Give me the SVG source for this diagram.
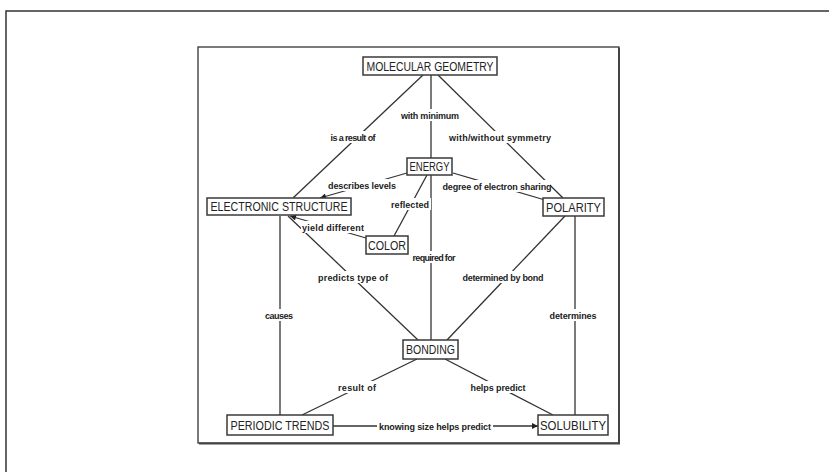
<svg xmlns="http://www.w3.org/2000/svg" width="829" height="472" viewBox="0 0 829 472">
<style>
.frame{fill:none;stroke:#333;stroke-width:1.5}
.box{fill:#fff;stroke:#3a3a3a;stroke-width:1.5}
.nt{font-family:"Liberation Sans",Arial,sans-serif;font-size:12.5px;fill:#222;text-anchor:middle}
.ln{stroke:#333;stroke-width:1.3;fill:none}
.lb{fill:#fff}
.lt{font-family:"Liberation Sans",Arial,sans-serif;font-size:9px;font-weight:bold;fill:#222;text-anchor:middle}
</style>
<defs>
<marker id="arr" viewBox="0 0 10 10" refX="10" refY="5" markerWidth="8" markerHeight="6" markerUnits="userSpaceOnUse" orient="auto">
<path d="M0,0 L10,5 L0,10 z" fill="#222"/>
</marker>
</defs>
<rect width="829" height="472" fill="#fff"/>
<path class="frame" d="M6,472 V11 H829"/>
<rect x="198" y="47" width="421" height="396" fill="#fff" stroke="#333" stroke-width="1.3"/>
<path d="M619,48 V443.5 H199" fill="none" stroke="#444" stroke-width="2"/>

<g id="connectors">
<line class="ln" x1="423" y1="75" x2="293" y2="198"/>
<line class="ln" x1="431" y1="75" x2="431" y2="158"/>
<line class="ln" x1="438" y1="75" x2="563" y2="198"/>
<line class="ln" x1="431" y1="175" x2="431" y2="340"/>
<line class="ln" x1="407" y1="173" x2="320" y2="198" marker-end="url(#arr)"/>
<line class="ln" x1="453" y1="173" x2="545" y2="200"/>
<line class="ln" x1="427" y1="175" x2="394" y2="236"/>
<line class="ln" x1="366" y1="238" x2="290" y2="216" marker-end="url(#arr)"/>
<line class="ln" x1="288" y1="216" x2="418" y2="340"/>
<line class="ln" x1="565" y1="216" x2="447" y2="340"/>
<line class="ln" x1="280" y1="216" x2="280" y2="415"/>
<line class="ln" x1="575" y1="216" x2="575" y2="415"/>
<line class="ln" x1="417" y1="359" x2="302" y2="415"/>
<line class="ln" x1="445" y1="359" x2="553" y2="415"/>
<line class="ln" x1="333" y1="426" x2="538" y2="426" marker-end="url(#arr)"/>

<g id="labels">
<rect class="lb" x="328" y="131" width="50" height="12"/><text class="lt" x="353" y="140.5" textLength="45">is a result of</text>
<rect class="lb" x="399" y="109" width="62" height="12"/><text class="lt" x="430" y="118.5" textLength="58">with minimum</text>
<rect class="lb" x="447" y="131" width="106" height="12"/><text class="lt" x="500" y="140.5" textLength="102">with/without symmetry</text>
<rect class="lb" x="410" y="251" width="47" height="12"/><text class="lt" x="434" y="260.5" textLength="43">required for</text>
<rect class="lb" x="326" y="179" width="72" height="12"/><text class="lt" x="362" y="188.5" textLength="68">describes levels</text>
<rect class="lb" x="442" y="180" width="108" height="12"/><text class="lt" x="497" y="189.5" textLength="109">degree of electron sharing</text>
<rect class="lb" x="390" y="198" width="41" height="12"/><text class="lt" x="410" y="207.5" textLength="38">reflected</text>
<rect class="lb" x="301" y="221" width="64" height="12"/><text class="lt" x="333" y="230.5" textLength="62">yield different</text>
<rect class="lb" x="317" y="271" width="73" height="12"/><text class="lt" x="353" y="280.5" textLength="70">predicts type of</text>
<rect class="lb" x="462" y="271" width="84" height="12"/><text class="lt" x="503" y="280.5" textLength="81">determined by bond</text>
<rect class="lb" x="263" y="309" width="32" height="12"/><text class="lt" x="279" y="318.5" textLength="28">causes</text>
<rect class="lb" x="549" y="309" width="50" height="12"/><text class="lt" x="573" y="318.5" textLength="47">determines</text>
<rect class="lb" x="337" y="381" width="41" height="12"/><text class="lt" x="357" y="390.5" textLength="38">result of</text>
<rect class="lb" x="469" y="381" width="58" height="12"/><text class="lt" x="498" y="390.5" textLength="55">helps predict</text>
<rect class="lb" x="377" y="420" width="116" height="12"/><text class="lt" x="435" y="429.5" textLength="112">knowing size helps predict</text>
</g>
</g>

<g id="n-molecular-geometry"><rect class="box" x="363" y="57" width="134" height="18"/><text class="nt" x="430" y="70.5" textLength="127" lengthAdjust="spacingAndGlyphs">MOLECULAR GEOMETRY</text></g>
<g id="n-energy"><rect class="box" x="407" y="158" width="45" height="17"/><text class="nt" x="429.5" y="171" textLength="40" lengthAdjust="spacingAndGlyphs">ENERGY</text></g>
<g id="n-electronic-structure"><rect class="box" x="207" y="198" width="144" height="17"/><text class="nt" x="279" y="211" textLength="137" lengthAdjust="spacingAndGlyphs">ELECTRONIC STRUCTURE</text></g>
<g id="n-polarity"><rect class="box" x="543" y="198" width="61" height="18"/><text class="nt" x="573.5" y="211.5" textLength="55" lengthAdjust="spacingAndGlyphs">POLARITY</text></g>
<g id="n-color"><rect class="box" x="366" y="236" width="42" height="18"/><text class="nt" x="387" y="249.5" textLength="38" lengthAdjust="spacingAndGlyphs">COLOR</text></g>
<g id="n-bonding"><rect class="box" x="403" y="340" width="55" height="19"/><text class="nt" x="430.5" y="354" textLength="49" lengthAdjust="spacingAndGlyphs">BONDING</text></g>
<g id="n-periodic-trends"><rect class="box" x="227" y="415" width="106" height="20"/><text class="nt" x="280" y="429.5" textLength="99" lengthAdjust="spacingAndGlyphs">PERIODIC TRENDS</text></g>
<g id="n-solubility"><rect class="box" x="538" y="415" width="70" height="20"/><text class="nt" x="573" y="429.5" textLength="66" lengthAdjust="spacingAndGlyphs">SOLUBILITY</text></g>
</svg>
